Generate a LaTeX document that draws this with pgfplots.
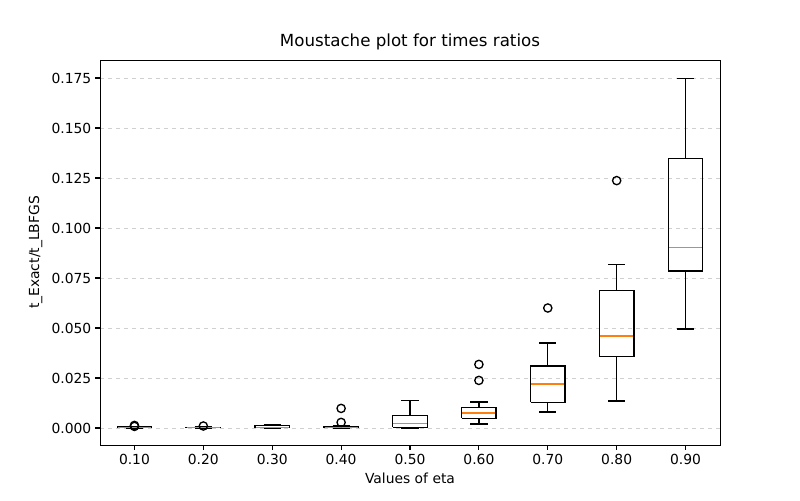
\documentclass[border=0pt]{standalone}
\usepackage{pgfplots}
\pgfplotsset{compat=1.18}
\usepackage{fontspec}
\setmainfont{DejaVu Sans}
\definecolor{mplorange}{HTML}{FF7F0E}
\definecolor{gridgray}{HTML}{D0D0D0}
% one box: position, lower whisker, lower quartile, median, upper quartile, upper whisker
\newcommand{\mpbox}[6]{%
  \addplot[black, line width=1pt, line join=miter, x filter/.expression={x+#1}]
    coordinates {(-0.25,#3)(0.25,#3)(0.25,#5)(-0.25,#5)(-0.25,#3)};
  \addplot[black, line width=1pt, unbounded coords=jump, x filter/.expression={x+#1}]
    coordinates {(0,#2)(0,#3) (0,nan) (0,#5)(0,#6) (0,nan)
                 (-0.125,#2)(0.125,#2) (0,nan) (-0.125,#6)(0.125,#6)};
  \addplot[mplorange, line width=1pt, x filter/.expression={x+#1}]
    coordinates {(-0.24,#4)(0.24,#4)};
}
\begin{document}
\begin{tikzpicture}
\begin{axis}[
    scale only axis,
    width=465pt, height=288.75pt,
    xmin=0.5, xmax=9.5,
    ymin=-0.0085, ymax=0.184,
    xtick={1,...,9},
    xticklabels={0.10,0.20,0.30,0.40,0.50,0.60,0.70,0.80,0.90},
    ytick={0,0.025,0.05,0.075,0.1,0.125,0.15,0.175},
    /pgf/number format/assume math mode=true,
    tickwidth=3.65pt,
    xtick pos=bottom, ytick pos=left,
    every x tick/.append style={black, line width=0.8pt, yshift=-3.65pt},
    every y tick/.append style={black, line width=0.8pt, xshift=-3.65pt},
    ymajorgrids, major grid style={gridgray, dashed, line width=0.6pt},
    title={Moustache plot for times ratios},
    title style={font=\fontsize{12.5}{14}\selectfont, yshift=-2pt},
    xlabel={Values of eta},
    ylabel={t\_Exact/t\_LBFGS},
    label style={font=\fontsize{10.4}{12}\selectfont},
    tick label style={font=\fontsize{10.4}{12}\selectfont},
    xticklabel style={yshift=-3pt},
    yticklabel style={xshift=-3pt, /pgf/number format/.cd, fixed, fixed zerofill, precision=3},
]
\mpbox{1}{0}{0.0001}{0.0003}{0.0005}{0.0007}
\mpbox{2}{0}{0.0001}{0.0002}{0.0004}{0.0006}
\mpbox{3}{0}{0.0002}{0.0004}{0.0013}{0.0017}
\mpbox{4}{0}{0.0001}{0.0004}{0.0008}{0.0012}
\mpbox{5}{0}{0.0003}{0.0023}{0.0063}{0.0138}
\mpbox{6}{0.002}{0.0048}{0.0075}{0.0103}{0.013}
\mpbox{7}{0.008}{0.0128}{0.022}{0.031}{0.0425}
\mpbox{8}{0.0135}{0.0358}{0.046}{0.0688}{0.0818}
\mpbox{9}{0.0495}{0.0785}{0.0903}{0.1348}{0.1748}
% outliers
\addplot[only marks, black, mark=o, mark size=3.1pt, mark options={line width=1pt}]
  coordinates {(1,0.0013)(1,0.0008)(2,0.001)(4,0.0028)(4,0.0098)
               (6,0.0238)(6,0.0318)(7,0.060)(8,0.1237)};
\end{axis}
\path (current axis.south west) ++(-75pt,-41.25pt) coordinate (bl);
\path (current axis.north east) ++(60pt,45pt) coordinate (tr);
\path (bl) rectangle (tr);
\end{tikzpicture}
\end{document}
